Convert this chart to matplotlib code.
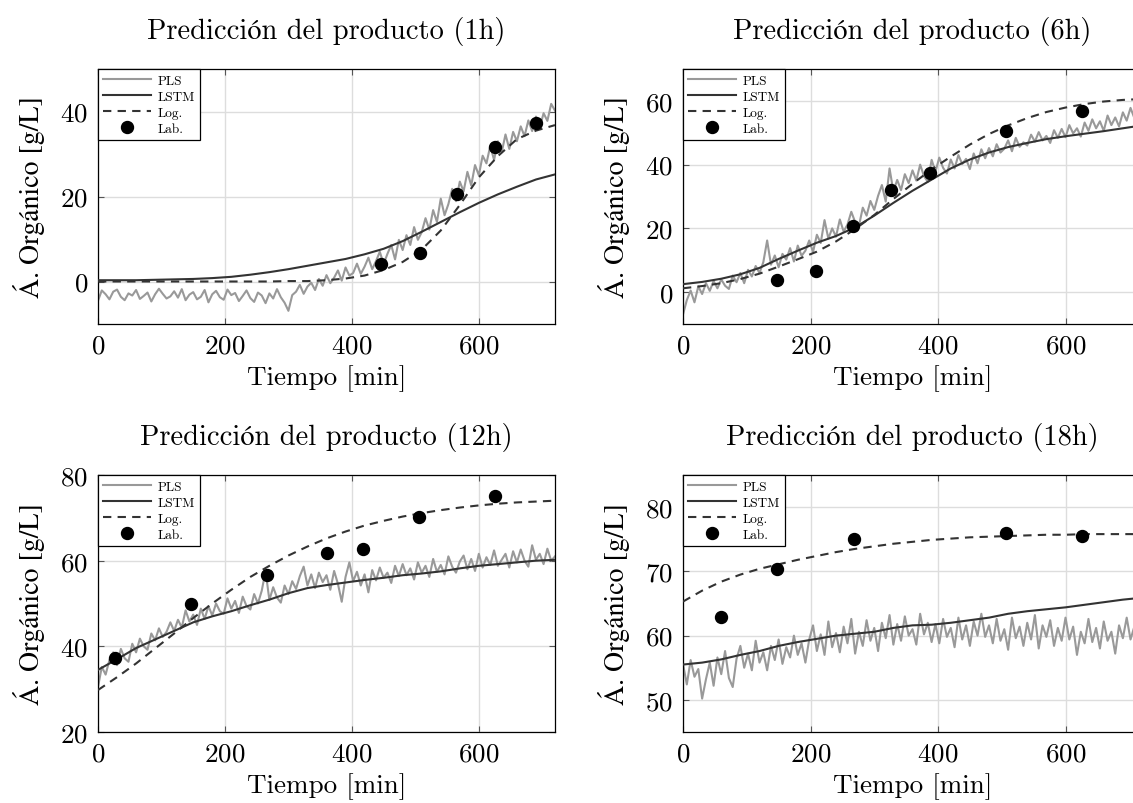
import numpy as np
import matplotlib.pyplot as plt

plt.rcParams['font.family'] = ['cmr10', 'STIXGeneral']
plt.rcParams['mathtext.fontset'] = 'cm'
plt.rcParams['axes.formatter.use_mathtext'] = True
plt.rcParams['axes.unicode_minus'] = False

# ---------------- Datos ----------------
titulos = ['Predicción del producto (1h)', 'Predicción del producto (6h)',
           'Predicción del producto (12h)', 'Predicción del producto (18h)']

# PLS (cada 6 min, 0..720)
pls_1h = [-4.5, -2.1, -3.0, -4.2, -2.4, -1.9, -3.6, -4.4, -2.8, -3.3,
          -2.0, -4.1, -3.4, -2.6, -4.7, -3.0, -1.7, -2.9, -4.0, -3.5,
          -2.3, -3.8, -1.8, -4.4, -3.1, -2.5, -4.2, -3.6, -2.0, -4.9,
          -3.0, -2.2, -3.7, -4.3, -1.9, -3.2, -2.7, -4.6, -3.4, -2.1,
          -3.9, -4.8, -2.6, -3.3, -5.1, -2.8, -4.0, -1.8, -3.7, -5.0,
          -6.9, -3.2, -2.4, -0.8, -2.9, -1.2, -0.3, -2.0, 0.6, -1.0,
          1.5, -0.4, 0.9, 2.6, 0.2, 3.3, 1.4, 2.0, 4.2, 1.8,
          3.5, 5.6, 2.9, 4.8, 7.0, 4.1, 6.5, 8.6, 5.2, 9.8,
          7.4, 10.9, 8.6, 12.8, 9.8, 11.6, 14.9, 12.2, 16.8, 14.0,
          19.5, 15.6, 18.2, 21.8, 18.9, 23.5, 21.2, 25.8, 22.6, 27.4,
          25.0, 29.6, 27.8, 31.9, 28.6, 33.0, 30.4, 34.6, 31.2, 35.2,
          33.0, 36.5, 34.2, 37.9, 35.4, 38.8, 36.2, 39.6, 37.8, 41.8,
          40.2]
pls_6h = [-7.0, -2.5, 0.5, -3.2, 1.8, -0.6, 2.8, 0.4, 3.5, 1.2,
          4.0, 2.0, 1.0, 5.2, 3.1, 6.0, 2.8, 7.0, 4.9, 8.2,
          6.0, 9.4, 16.2, 8.6, 11.5, 7.8, 12.0, 10.2, 13.8, 9.6,
          14.6, 11.4, 13.0, 16.2, 12.6, 18.0, 15.4, 22.6, 16.8, 20.0,
          17.4, 22.8, 19.0, 21.2, 25.2, 22.0, 20.8, 26.5, 24.0, 28.6,
          25.8, 30.2, 33.6, 28.4, 38.8, 31.6, 35.2, 32.0, 37.0, 34.2,
          38.2, 35.0, 40.0, 36.4, 34.6, 41.5, 37.8, 42.2, 39.0, 37.2,
          41.6, 38.8, 43.0, 40.2, 41.8, 38.6, 43.5, 40.4, 44.8, 42.0,
          45.2, 42.6, 46.4, 43.8, 45.0, 47.6, 44.2, 48.4, 45.6, 47.0,
          46.0, 49.4, 47.2, 50.2, 47.6, 49.0, 46.8, 50.8, 48.4, 51.2,
          48.6, 52.4, 49.8, 51.4, 48.8, 53.2, 50.6, 54.2, 51.4, 53.6,
          50.6, 55.4, 52.4, 54.8, 52.0, 56.4, 53.8, 57.8, 54.6, 56.2,
          57.0]
pls_12h = [30.5, 35.2, 33.4, 36.8, 38.6, 35.6, 39.4, 37.2, 36.4, 40.6,
           38.6, 41.8, 40.0, 39.2, 43.0, 41.4, 44.2, 42.2, 43.4, 45.6,
           43.6, 46.2, 44.4, 48.4, 45.8, 47.4, 45.0, 48.8, 46.4, 49.4,
           47.2, 50.0, 48.2, 47.6, 51.2, 48.8, 50.6, 47.8, 51.6, 49.4,
           48.6, 52.2, 50.0, 53.0, 57.6, 50.8, 53.8, 51.4, 50.2, 54.2,
           52.2, 55.2, 53.4, 56.4, 58.6, 54.2, 56.8, 53.6, 57.2, 55.0,
           56.6, 53.2, 57.6, 54.6, 50.4, 56.2, 59.6, 55.2, 57.4, 54.2,
           56.8, 52.6, 57.8, 55.4, 58.4, 56.0, 57.2, 54.8, 58.8, 56.4,
           59.2, 56.6, 58.2, 55.6, 59.6, 57.2, 58.8, 56.2, 60.4, 57.4,
           59.0, 56.8, 61.0, 58.6, 57.2, 59.8, 61.2, 58.0, 60.4, 57.6,
           61.6, 58.4, 60.8, 59.0, 62.4, 58.8, 60.2, 61.6, 58.4, 62.2,
           59.6, 62.6, 60.0, 58.6, 63.6, 60.2, 61.6, 59.2, 62.8, 60.0,
           61.0]
pls_18h = [55.6, 52.4, 56.2, 53.6, 54.8, 50.2, 53.2, 55.8, 52.2, 56.6,
           54.0, 57.6, 53.4, 52.0, 56.4, 58.4, 55.0, 57.2, 54.6, 59.2,
           55.8, 57.4, 54.6, 58.4, 56.2, 59.4, 55.6, 58.2, 56.6, 60.0,
           57.0, 58.8, 55.8, 59.4, 61.6, 57.6, 60.2, 57.0, 62.2, 58.2,
           60.4, 57.4, 61.4, 58.8, 62.6, 57.2, 60.6, 58.4, 62.4, 59.2,
           61.2, 57.6, 62.0, 59.6, 63.2, 58.6, 61.8, 59.2, 63.0, 60.0,
           61.0, 58.6, 63.4, 60.2, 62.0, 59.0, 61.8, 58.8, 62.6, 59.8,
           61.2, 58.2, 62.8, 59.4, 61.6, 58.4, 62.2, 60.0, 63.4, 59.8,
           61.6, 58.8, 62.6, 59.2, 61.0, 57.8, 62.8, 59.6, 61.4, 58.4,
           62.0, 59.4, 63.2, 58.0, 61.6, 59.8, 62.4, 58.4, 61.2, 59.2,
           62.8, 59.4, 61.4, 57.0, 60.6, 58.8, 62.6, 59.0, 61.2, 58.0,
           62.2, 59.2, 60.6, 57.2, 61.6, 59.6, 62.8, 59.4, 61.4, 58.6,
           62.2]

# LSTM y Logistico (cada 30 min, 0..720)
lstm_1h = [0.3, 0.3, 0.3, 0.4, 0.5, 0.6, 0.8, 1.1, 1.6, 2.2, 2.9, 3.7, 4.5, 5.3, 6.4, 7.7,
           9.5, 11.7, 14.0, 16.3, 18.5, 20.5, 22.3, 24.0, 25.2]
log_1h = [0.0, 0.0, 0.0, 0.0, 0.0, 0.0, 0.0, 0.0, 0.0, 0.0, 0.1, 0.1, 0.3, 0.7, 1.4, 2.7,
          4.6, 7.5, 12.0, 18.0, 24.5, 29.5, 33.5, 35.5, 36.8]
lstm_6h = [2.5, 3.2, 4.2, 5.6, 7.6, 10.4, 13.0, 15.5, 17.6, 20.3, 24.0, 28.0, 31.8, 35.3, 38.8, 41.6,
           43.8, 45.5, 46.8, 48.0, 48.9, 49.7, 50.5, 51.4, 52.3]
log_6h = [1.2, 1.9, 2.8, 4.1, 5.8, 8.0, 10.3, 12.7, 15.9, 19.8, 24.2, 29.2, 34.0, 38.5, 42.5, 46.3,
          49.6, 52.3, 54.6, 56.5, 57.9, 59.0, 59.8, 60.3, 60.6]
lstm_12h = [34.5, 37.0, 39.6, 41.6, 43.6, 45.6, 47.0, 48.2, 49.6, 50.9, 52.4, 53.6, 54.3, 54.9, 55.5, 56.0,
            56.6, 57.0, 57.5, 58.2, 58.8, 59.2, 59.6, 60.0, 60.2]
log_12h = [29.8, 32.8, 36.0, 39.5, 43.0, 46.6, 50.0, 53.2, 56.2, 58.8, 61.2, 63.3, 65.2, 66.8, 68.2, 69.3,
           70.3, 71.1, 71.8, 72.4, 72.9, 73.3, 73.6, 73.8, 74.0]
lstm_18h = [55.5, 55.8, 56.3, 57.0, 57.6, 58.4, 59.0, 59.5, 60.0, 60.3, 60.6, 61.2, 61.6, 61.7, 62.0, 62.4,
            62.8, 63.4, 63.8, 64.1, 64.4, 64.8, 65.2, 65.6, 65.9]
log_18h = [65.3, 67.0, 68.4, 69.5, 70.4, 71.1, 71.8, 72.4, 73.0, 73.5, 73.9, 74.3, 74.6, 74.9, 75.1, 75.3,
           75.4, 75.5, 75.6, 75.7, 75.7, 75.8, 75.8, 75.8, 75.8]

# Laboratorio
lab_t_1h = [446, 507, 566, 626, 690]
lab_v_1h = [4.2, 6.8, 20.6, 31.7, 37.3]
lab_t_6h = [148, 209, 267, 327, 387, 507, 626]
lab_v_6h = [3.8, 6.6, 20.6, 31.9, 37.3, 50.4, 56.8]
lab_t_12h = [27, 146, 267, 361, 417, 506, 626]
lab_v_12h = [37.3, 50.0, 56.7, 61.8, 62.8, 70.2, 75.0]
lab_t_18h = [60, 148, 269, 507, 626]
lab_v_18h = [62.9, 70.3, 75.0, 75.9, 75.5]

ylims = [(-10, 50), (-10, 70), (20, 80), (45, 85)]
yticks = [[0, 20, 40], [0, 20, 40, 60], [20, 40, 60, 80], [50, 60, 70, 80]]

paneles = [
    (pls_1h, lstm_1h, log_1h, lab_t_1h, lab_v_1h),
    (pls_6h, lstm_6h, log_6h, lab_t_6h, lab_v_6h),
    (pls_12h, lstm_12h, log_12h, lab_t_12h, lab_v_12h),
    (pls_18h, lstm_18h, log_18h, lab_t_18h, lab_v_18h),
]

W, H = 1133, 804
# posiciones de los ejes en pixeles (izq, arriba, der, abajo)
cajas = [(98, 70, 555, 325), (683, 70, 1142, 325),
         (98, 476, 555, 733), (683, 476, 1142, 733)]

fig = plt.figure(figsize=(W / 100, H / 100), dpi=100)

for i, (pls, lstm, logi, lab_t, lab_v) in enumerate(paneles):
    x0, y0, x1, y1 = cajas[i]
    ax = fig.add_axes([x0 / W, 1 - y1 / H, (x1 - x0) / W, (y1 - y0) / H])

    t_pls = np.linspace(0, 720, len(pls))
    t_mod = np.linspace(0, 720, len(lstm))

    ax.plot(t_pls, pls, color='#999999', lw=1.5, label='PLS', zorder=2)
    ax.plot(t_mod, lstm, color='#333333', lw=1.5, label='LSTM', zorder=3)
    ax.plot(t_mod, logi, color='#333333', lw=1.5, ls=(0, (4, 3)), label='Log.', zorder=3)
    ax.plot(lab_t, lab_v, 'o', color='black', ms=8.6, label='Lab.', zorder=4)

    ax.set_xlim(0, 720)
    ax.set_ylim(*ylims[i])
    ax.set_xticks([0, 200, 400, 600])
    ax.set_yticks(yticks[i])
    ax.grid(True, color='#dddddd', lw=1.0)
    ax.set_axisbelow(True)
    ax.tick_params(direction='in', length=4, top=True, right=True, labelsize=19.5,
                   pad=7, color='#555555')
    for s in ax.spines.values():
        s.set_linewidth(0.9)

    ax.set_title(titulos[i], fontsize=20.5, pad=22)
    ax.set_xlabel('Tiempo [min]', fontsize=19.5, labelpad=5)
    ax.set_ylabel('Á. Orgánico [g/L]', fontsize=20, labelpad=11, family='STIXGeneral')

    leg = ax.legend(loc='upper left', fontsize=9.5, borderaxespad=0, fancybox=False,
                    edgecolor='black', framealpha=1, handlelength=3.6, labelspacing=0.3,
                    borderpad=0.4, handletextpad=0.5)
    leg.get_frame().set_linewidth(0.9)

fig.savefig('out.png', dpi=100)
